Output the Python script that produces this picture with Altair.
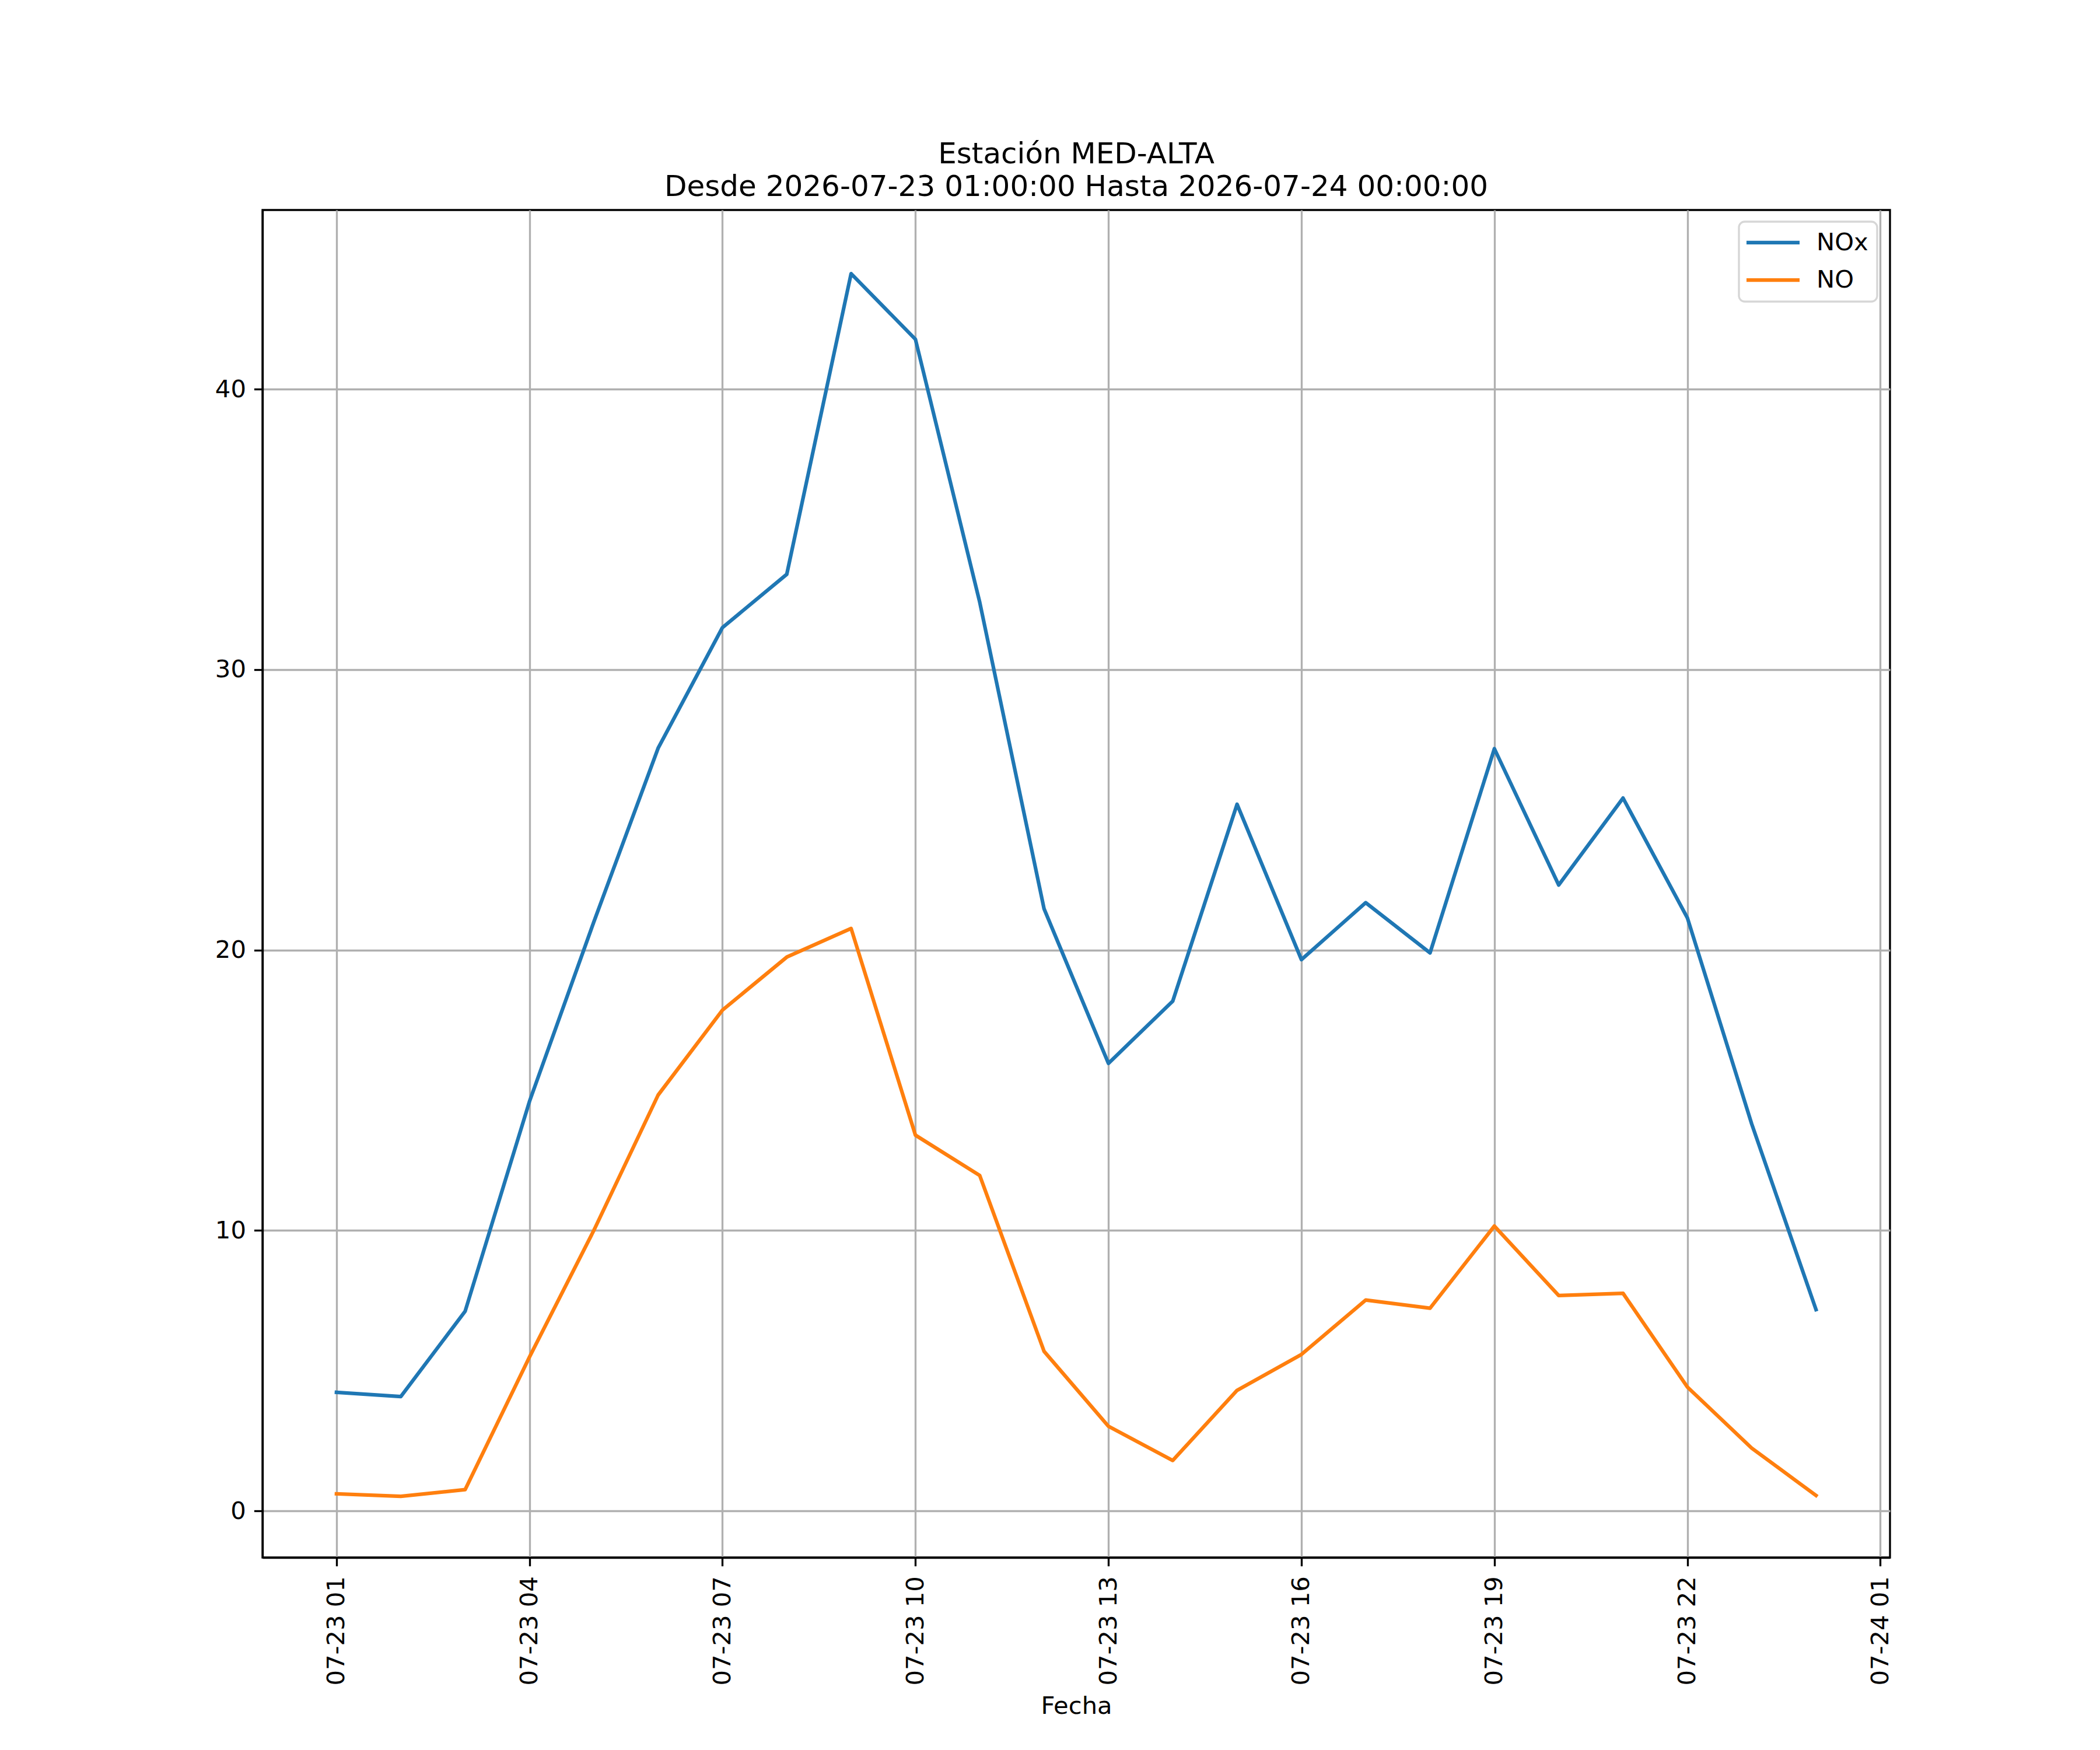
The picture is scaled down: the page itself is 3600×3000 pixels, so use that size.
import altair as alt
import pandas as pd

# ---- data ----
hours = list(range(1, 25))  # 2026-07-23 01:00 ... 2026-07-24 00:00
nox = [4.23, 4.08, 7.12, 14.6, 21.0, 27.2, 31.5, 33.4, 44.12, 41.78, 32.4, 21.47,
       15.96, 18.18, 25.2, 19.66, 21.69, 19.9, 27.18, 22.32, 25.42, 21.15, 13.8, 7.18]
no = [0.61, 0.52, 0.76, 5.49, 10.0, 14.83, 17.86, 19.75, 20.77, 13.4, 11.96, 5.69,
      3.02, 1.8, 4.3, 5.58, 7.52, 7.23, 10.16, 7.68, 7.76, 4.42, 2.24, 0.55]
series = ["NOx", "NO"]
colors = ["#1f77b4", "#ff7f0e"]
tick_hours = [1, 4, 7, 10, 13, 16, 19, 22, 25]
y_ticks = [0, 10, 20, 30, 40]
title_lines = ["Estación MED-ALTA",
               "Desde 2026-07-23 01:00:00 Hasta 2026-07-24 00:00:00"]
x_title = "Fecha"

# ---- build table ----
base_ms = pd.Timestamp("2026-07-23 00:00", tz="UTC").value // 10**6
H = 3600 * 1000
df = pd.DataFrame({
    "t": [base_ms + h * H for h in hours] * 2,
    "valor": nox + no,
    "serie": [series[0]] * len(hours) + [series[1]] * len(hours),
})
x_dom = [base_ms + int(-0.15 * H), base_ms + int(25.15 * H)]
tick_ms = [base_ms + h * H for h in tick_hours]

FONT = "DejaVu Sans"
LW = 3.33

chart = alt.Chart(df).mark_line(
    strokeWidth=6.25, strokeCap="square", strokeJoin="round"
).encode(
    x=alt.X("t:T", title=x_title,
            scale=alt.Scale(type="utc", domain=x_dom, nice=False),
            axis=alt.Axis(values=tick_ms, labelExpr="utcFormat(datum.value, '%m-%d %H')",
                          labelAngle=270, labelPadding=17,
                          titleY=267, titleBaseline="alphabetic",
                          labelLimit=0, labelFlush=False, labelOverlap=False)),
    y=alt.Y("valor:Q", title=None,
            scale=alt.Scale(domain=[-1.66, 46.39], nice=False, zero=False),
            axis=alt.Axis(values=y_ticks, labelPadding=14, labelFlush=False,
                          labelOverlap=False)),
    color=alt.Color("serie:N", scale=alt.Scale(domain=series, range=colors),
                    legend=alt.Legend(title=None, orient="none", legendX=2531, legendY=20,
                                      symbolType="M-2.676,0H2.676", symbolSize=1156,
                                      symbolOffset=22.65,
                                      symbolStrokeWidth=6.25, labelFontSize=41.7,
                                      labelFont=FONT, labelColor="black",
                                      labelOffset=53.65, rowPadding=21.3, padding=15,
                                      fillColor="white", strokeColor="#d6d6d6",
                                      cornerRadius=10)),
).properties(
    width=2790, height=2310,
    title=alt.TitleParams(text=title_lines, fontSize=50, font=FONT, fontWeight="normal",
                          anchor="middle", color="black", lineHeight=56, offset=14),
    autosize=alt.AutoSizeParams(type="none"),
    padding={"left": 442, "top": 352, "right": 352, "bottom": 322},
).configure_axis(
    labelFont=FONT, labelFontSize=41.7, labelColor="black",
    tickColor="black", tickSize=14.6, tickWidth=LW,
    domainColor="black", domainWidth=LW,
    grid=True, gridColor="#b0b0b0", gridWidth=LW, gridOpacity=1,
    titleFont=FONT, titleFontSize=41.7, titleFontWeight="normal", titleColor="black",
).configure_legend(
    strokeWidth=LW,
).configure_view(
    stroke="black", strokeWidth=LW,
)

chart.save("out.html", embed_options={"renderer": "svg", "actions": False})
